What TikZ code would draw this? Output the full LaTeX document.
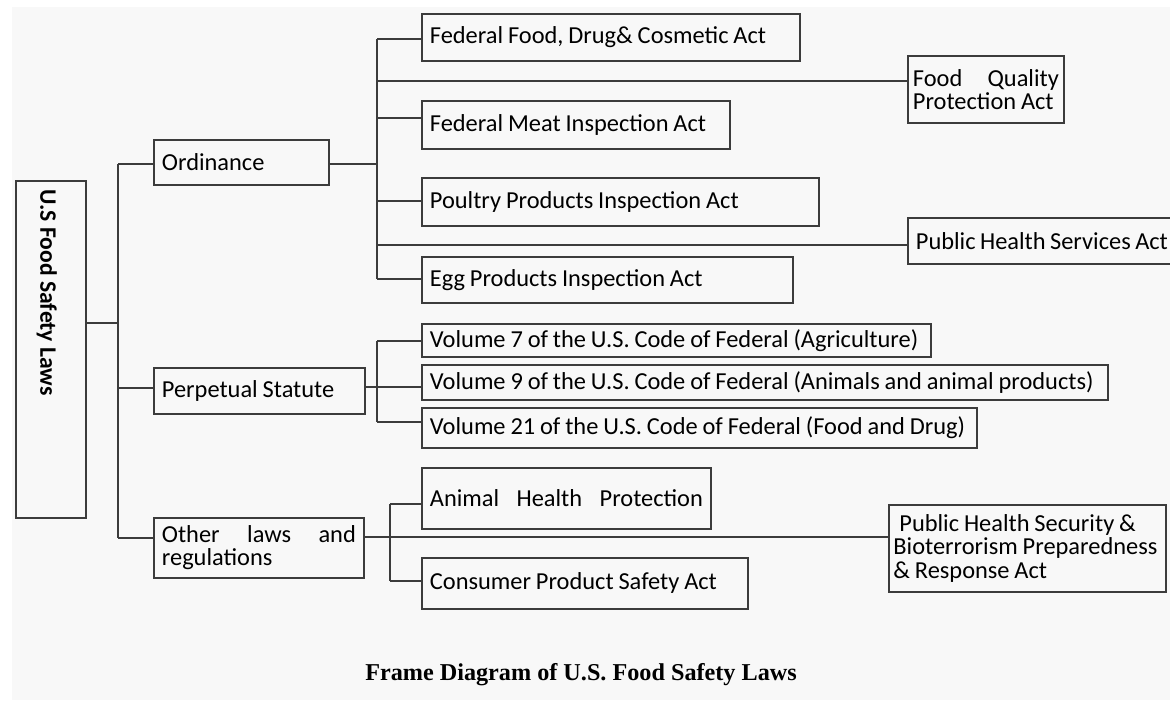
\documentclass[tikz,border=0pt]{standalone}
\usepackage{fontspec}
\setmainfont{Carlito}
\newfontfamily\titlefont{Liberation Serif}
\usetikzlibrary{calc, positioning}
\definecolor{paper}{RGB}{248, 248, 248}
\definecolor{inkline}{RGB}{60, 60, 60}

\begin{document}
\begin{tikzpicture}[
  x=0.5pt,
  y=-0.5pt,
  font=\fontsize{12.2}{11.6}\selectfont,
  law/.style={draw=inkline, line width=0.9pt, anchor=north west, align=left,
              inner xsep=4pt, inner ysep=0pt,
              execute at begin node={\spaceskip=0.2em plus 0.05em minus 0.03em\hyphenpenalty=10000\relax}},
  link/.style={draw=inkline, line width=0.9pt},
]

\clip (0,0) rectangle (1170,708);
\fill[white] (0,0) rectangle (1170,708);
\fill[paper] (12,7) rectangle (1170,700);

\node[law, text width=27pt, minimum height=168.5pt] (root) at (15,180) {};
\node[font=\fontsize{11.8}{13}\selectfont\bfseries, rotate=-90, anchor=west, inner sep=0pt]
  (rootlabel) at ($(root.north)+(-4,9)$) {U.S Food Safety Laws};

\node[law, text width=79.5pt, minimum height=22.5pt] (ord)   at (153,139) {Ordinance};
\node[law, text width=97.5pt, minimum height=23pt]   (perp)  at (153,367) {Perpetual Statute};
\node[law, text width=97pt,   minimum height=30pt]   (other) at (153,517)
  {Other\hfill laws\hfill and\\regulations};

\node[law, text width=181pt,   minimum height=23.5pt] (ffd) at (421,13)  {Federal Food, Drug\& Cosmetic Act};
\node[law, text width=73pt, inner xsep=2.5pt, minimum height=33.5pt] (fqp) at (907,55)
  {Food\hfill Quality\\Protection Act};
\node[law, text width=146pt,   minimum height=24pt]   (fmi) at (421,100) {Federal Meat Inspection Act};
\node[law, text width=190.5pt, minimum height=24pt]   (ppi) at (421,177) {Poultry Products Inspection Act};
\node[law, text width=126pt,   minimum height=23pt]   (phs) at (907,217) {Public Health Services Act};
\node[law, text width=177.5pt, minimum height=23pt]   (egg) at (421,256) {Egg Products Inspection Act};

\node[law, text width=246.5pt, minimum height=16.5pt] (vol7)  at (421,323)
  {Volume 7 of the U.S. Code of Federal (Agriculture)};
\node[law, text width=335pt,   minimum height=17.5pt] (vol9)  at (421,364)
  {Volume 9 of the U.S. Code of Federal (Animals and animal products)};
\node[law, text width=269.5pt, minimum height=20pt]   (vol21) at (421,407)
  {Volume 21 of the U.S. Code of Federal (Food and Drug)};

\node[law, text width=136.5pt, minimum height=30.5pt] (ahp)  at (421,467) {Animal\hfill Health\hfill Protection};
\node[law, text width=155pt,   minimum height=25.5pt] (cps)  at (421,557) {Consumer Product Safety Act};
\node[law, text width=134pt, inner xsep=2.25pt, minimum height=43.5pt] (phsb) at (888,504)
  {\hspace{3pt}Public Health Security \&\\Bioterrorism Preparedness\\\& Response Act};

\node[font=\titlefont\bfseries\fontsize{12.1}{14}\selectfont] (caption) at (581,675)
  {Frame Diagram of U.S. Food Safety Laws};

\coordinate (rootbus)  at (118,0);
\coordinate (ordbus)   at (377,0);
\coordinate (perpbus)  at (377,0);
\coordinate (otherbus) at (390,0);

\draw[link] (root.east |- 0,323) -- (rootbus |- 0,323);
\draw[link] (rootbus |- 0,164) -- (rootbus |- 0,538);
\draw[link] (rootbus |- 0,164) -- (ord.west |- 0,164);
\draw[link] (rootbus |- 0,388) -- (perp.west |- 0,388);
\draw[link] (rootbus |- 0,538) -- (other.west |- 0,538);

\draw[link] (ord.east |- 0,164) -- (ordbus |- 0,164);
\draw[link] (ordbus |- 0,39) -- (ordbus |- 0,279);
\foreach \b/\y in {ffd/39, fqp/81, fmi/118, ppi/201, phs/245, egg/279}
  \draw[link] (ordbus |- 0,\y) -- (\b.west |- 0,\y);

\draw[link] (perp.east |- 0,387) -- (vol9.west |- 0,387);
\draw[link] (perpbus |- 0,341) -- (perpbus |- 0,422);
\draw[link] (perpbus |- 0,341) -- (vol7.west |- 0,341);
\draw[link] (perpbus |- 0,422) -- (vol21.west |- 0,422);

\draw[link] (other.east |- 0,537) -- (phsb.west |- 0,537);
\draw[link] (otherbus |- 0,504) -- (otherbus |- 0,581);
\draw[link] (otherbus |- 0,504) -- (ahp.west |- 0,504);
\draw[link] (otherbus |- 0,581) -- (cps.west |- 0,581);

\end{tikzpicture}
\end{document}
